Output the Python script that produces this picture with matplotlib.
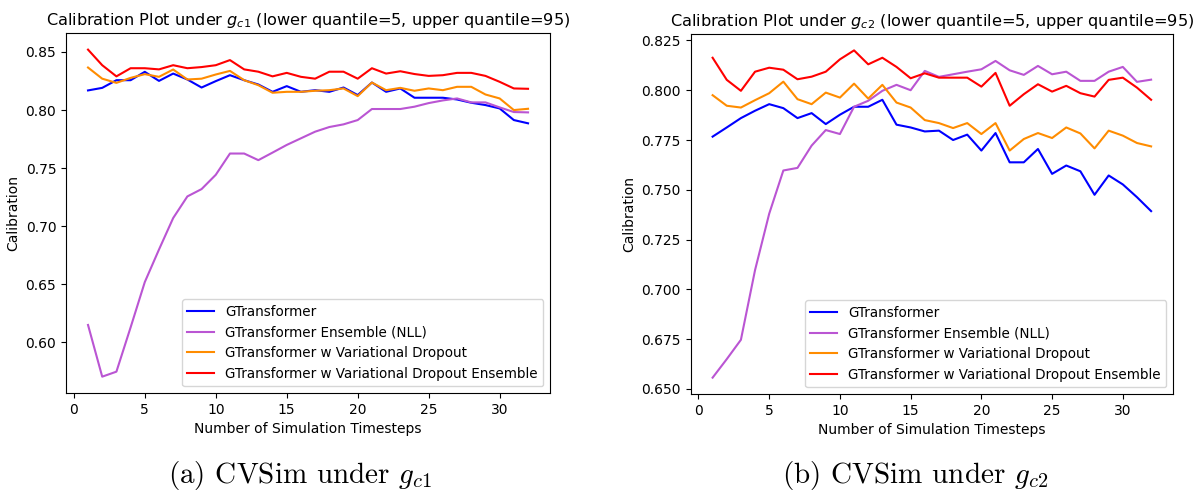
import matplotlib
matplotlib.use("Agg")
import matplotlib.pyplot as plt

steps = list(range(1, 33))

# left panel (g_c1)
gt_c1 = [0.8169, 0.8191, 0.8257, 0.8257, 0.8329, 0.8251, 0.8314, 0.8263, 0.8194, 0.8249,
         0.8300, 0.8257, 0.8220, 0.8157, 0.8206, 0.8157, 0.8171, 0.8157, 0.8194, 0.8129,
         0.8237, 0.8157, 0.8186, 0.8106, 0.8106, 0.8106, 0.8091, 0.8063, 0.8043, 0.8014,
         0.7914, 0.7886]
ens_c1 = [0.6151, 0.5706, 0.5749, 0.6130, 0.6520, 0.6800, 0.7071, 0.7257, 0.7320, 0.7443,
          0.7626, 0.7626, 0.7569, 0.7634, 0.7700, 0.7757, 0.7814, 0.7854, 0.7877, 0.7914,
          0.8009, 0.8009, 0.8009, 0.8029, 0.8060, 0.8083, 0.8100, 0.8066, 0.8066, 0.8023,
          0.7983, 0.7980]
vd_c1 = [0.8366, 0.8270, 0.8234, 0.8277, 0.8309, 0.8286, 0.8349, 0.8263, 0.8270, 0.8306,
         0.8337, 0.8257, 0.8214, 0.8149, 0.8157, 0.8157, 0.8166, 0.8171, 0.8186, 0.8120,
         0.8237, 0.8171, 0.8191, 0.8166, 0.8186, 0.8171, 0.8200, 0.8200, 0.8134, 0.8100,
         0.8000, 0.8011]
vde_c1 = [0.8520, 0.8386, 0.8290, 0.8360, 0.8360, 0.8350, 0.8386, 0.8360, 0.8370, 0.8386,
          0.8430, 0.8350, 0.8330, 0.8290, 0.8320, 0.8286, 0.8270, 0.8330, 0.8330, 0.8270,
          0.8360, 0.8314, 0.8334, 0.8310, 0.8294, 0.8300, 0.8320, 0.8320, 0.8294, 0.8243,
          0.8186, 0.8183]

# right panel (g_c2)
gt_c2 = [0.7767, 0.7813, 0.7860, 0.7897, 0.7930, 0.7910, 0.7860, 0.7885, 0.7830, 0.7877,
         0.7917, 0.7917, 0.7952, 0.7827, 0.7813, 0.7793, 0.7797, 0.7750, 0.7777, 0.7697,
         0.7785, 0.7638, 0.7638, 0.7705, 0.7580, 0.7622, 0.7593, 0.7475, 0.7572, 0.7527,
         0.7463, 0.7393]
ens_c2 = [0.6557, 0.6650, 0.6747, 0.7097, 0.7380, 0.7597, 0.7610, 0.7722, 0.7800, 0.7780,
          0.7917, 0.7947, 0.7997, 0.8027, 0.8000, 0.8097, 0.8067, 0.8080, 0.8093, 0.8105,
          0.8147, 0.8100, 0.8077, 0.8122, 0.8080, 0.8093, 0.8047, 0.8047, 0.8093, 0.8117,
          0.8042, 0.8053]
vd_c2 = [0.7975, 0.7922, 0.7913, 0.7950, 0.7985, 0.8043, 0.7955, 0.7930, 0.7988, 0.7963,
         0.8033, 0.7958, 0.8027, 0.7938, 0.7913, 0.7850, 0.7835, 0.7810, 0.7835, 0.7780,
         0.7835, 0.7697, 0.7755, 0.7785, 0.7760, 0.7813, 0.7783, 0.7708, 0.7797, 0.7772,
         0.7735, 0.7718]
vde_c2 = [0.8163, 0.8052, 0.7997, 0.8093, 0.8113, 0.8103, 0.8055, 0.8068, 0.8093, 0.8155,
          0.8200, 0.8130, 0.8163, 0.8117, 0.8060, 0.8085, 0.8063, 0.8063, 0.8063, 0.8018,
          0.8087, 0.7922, 0.7980, 0.8030, 0.7993, 0.8022, 0.7985, 0.7968, 0.8052, 0.8063,
          0.8013, 0.7952]

labels = ["GTransformer", "GTransformer Ensemble (NLL)",
          "GTransformer w Variational Dropout", "GTransformer w Variational Dropout Ensemble"]
colors = ["blue", "mediumorchid", "darkorange", "red"]

fig = plt.figure(figsize=(11.96, 4.93), dpi=100)
ax1 = fig.add_axes([0.0552, 0.2028, 0.4047, 0.7297])
ax2 = fig.add_axes([0.5775, 0.2008, 0.4033, 0.7302])

panels = [
    (ax1, [gt_c1, ens_c1, vd_c1, vde_c1], "c1"),
    (ax2, [gt_c2, ens_c2, vd_c2, vde_c2], "c2"),
]

for ax, series, g in panels:
    for ys, lab, col in zip(series, labels, colors):
        ax.plot(steps, ys, color=col, label=lab, linewidth=1.5)
    ax.set_title("Calibration Plot under $g_{%s}$ (lower quantile=5, upper quantile=95)" % g,
                 fontsize=11.6, pad=6)
    ax.set_xlabel("Number of Simulation Timesteps", fontsize=10)
    ax.set_ylabel("Calibration", fontsize=10)
    ax.tick_params(labelsize=10)
    ax.legend(loc="lower right", fontsize=9.75)

# sub-figure captions in a LaTeX-like face
fig.text(0.251, 0.036, "(a) CVSim under $g_{c1}$", ha="center", va="center",
         fontsize=21, family="cmr10", math_fontfamily="cm")
fig.text(0.765, 0.036, "(b) CVSim under $g_{c2}$", ha="center", va="center",
         fontsize=21, family="cmr10", math_fontfamily="cm")

fig.savefig("out.png", dpi=100)
